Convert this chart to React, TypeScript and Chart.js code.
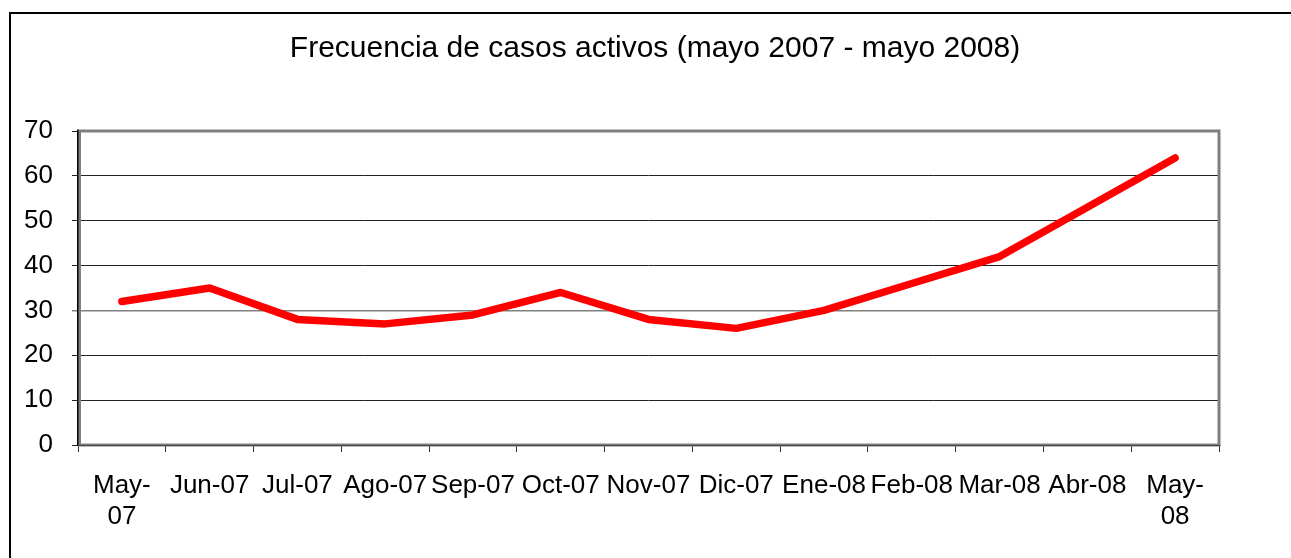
import { useEffect, useRef } from "react";
import { Chart, registerables } from "chart.js";

Chart.register(...registerables);

const TITLE = "Frecuencia de casos activos (mayo 2007 - mayo 2008)";
const categories: (string | string[])[] = [
  ["May-", "07"],
  "Jun-07",
  "Jul-07",
  "Ago-07",
  "Sep-07",
  "Oct-07",
  "Nov-07",
  "Dic-07",
  "Ene-08",
  "Feb-08",
  "Mar-08",
  "Abr-08",
  ["May-", "08"],
];
const casosActivos = [32, 35, 28, 27, 29, 34, 28, 26, 30, 36, 42, 53, 64];
const yMin = 0;
const yMax = 70;
const yStep = 10;

const FONT = '"Liberation Sans", Arial, sans-serif';

export default function App() {
  const ref = useRef<HTMLCanvasElement>(null);

  useEffect(() => {
    const canvas = ref.current!;
    const framePlugin = {
      id: "frame",
      beforeDatasetsDraw(chart: any) {
        const { ctx, chartArea: a } = chart;
        ctx.save();
        ctx.strokeStyle = "#808080";
        ctx.lineWidth = 3;
        ctx.strokeRect(a.left + 1.5, a.top, a.right - a.left - 1.5, a.bottom - a.top);
        ctx.strokeStyle = "#000";
        ctx.lineWidth = 1.5;
        ctx.beginPath();
        ctx.moveTo(a.left - 0.25, a.top - 1.5);
        ctx.lineTo(a.left - 0.25, a.bottom + 1);
        ctx.stroke();
        ctx.strokeStyle = "#444";
        ctx.lineWidth = 1;
        ctx.beginPath();
        ctx.moveTo(a.left, a.bottom + 0.5);
        ctx.lineTo(a.right + 1.5, a.bottom + 0.5);
        ctx.stroke();
        ctx.restore();
      },
      afterDraw(chart: any) {
        const { ctx } = chart;
        ctx.save();
        ctx.font = `30px ${FONT}`;
        ctx.fillStyle = "#000";
        ctx.textAlign = "center";
        ctx.textBaseline = "alphabetic";
        ctx.fillText(TITLE, 644, 43);
        ctx.restore();
      },
    };

    const chart = new Chart(canvas, {
      type: "line",
      data: {
        labels: categories,
        datasets: [
          {
            label: "Casos activos",
            data: casosActivos,
            borderColor: "#FF0000",
            backgroundColor: "#FF0000",
            borderWidth: 7.5,
            borderCapStyle: "round",
            borderJoinStyle: "round",
            pointRadius: 0,
            tension: 0,
            fill: false,
          },
        ],
      },
      options: {
        responsive: false,
        animation: false,
        devicePixelRatio: 1,
        layout: { padding: { top: 117, left: 0, right: 72, bottom: 0 } },
        plugins: {
          legend: { display: false },
          title: { display: false },
          tooltip: { enabled: false },
        },
        scales: {
          x: {
            type: "category",
            offset: true,
            afterFit: (s: any) => {
              s.height = 113;
            },
            grid: {
              offset: true,
              drawOnChartArea: false,
              drawTicks: true,
              tickLength: 7,
              color: "#333",
              lineWidth: 1,
            },
            border: { display: false },
            ticks: {
              autoSkip: false,
              maxRotation: 0,
              minRotation: 0,
              padding: 18,
              color: "#000",
              font: { family: FONT, size: 26, lineHeight: 1.2 },
            },
          },
          y: {
            min: yMin,
            max: yMax,
            afterFit: (s: any) => {
              s.width = 67;
            },
            grid: {
              drawTicks: true,
              tickLength: 6,
              color: (c: any) => (c.tick && c.tick.value === 30 ? "#808080" : "#222"),
              lineWidth: (c: any) => (c.tick && c.tick.value === 30 ? 1.5 : 1),
            },
            border: { display: false },
            ticks: {
              stepSize: yStep,
              padding: 19,
              color: "#000",
              font: { family: FONT, size: 26 },
            },
          },
        },
      },
      plugins: [framePlugin],
    } as any);

    return () => chart.destroy();
  }, []);

  return (
    <div
      style={{
        position: "fixed",
        left: 9,
        top: 12,
        width: 1282,
        height: 546,
        borderLeft: "2px solid #000",
        borderTop: "2px solid #000",
        boxSizing: "border-box",
        overflow: "hidden",
        background: "#fff",
      }}
    >
      <canvas ref={ref} width={1280} height={544} style={{ display: "block", width: 1280, height: 544 }} />
    </div>
  );
}
